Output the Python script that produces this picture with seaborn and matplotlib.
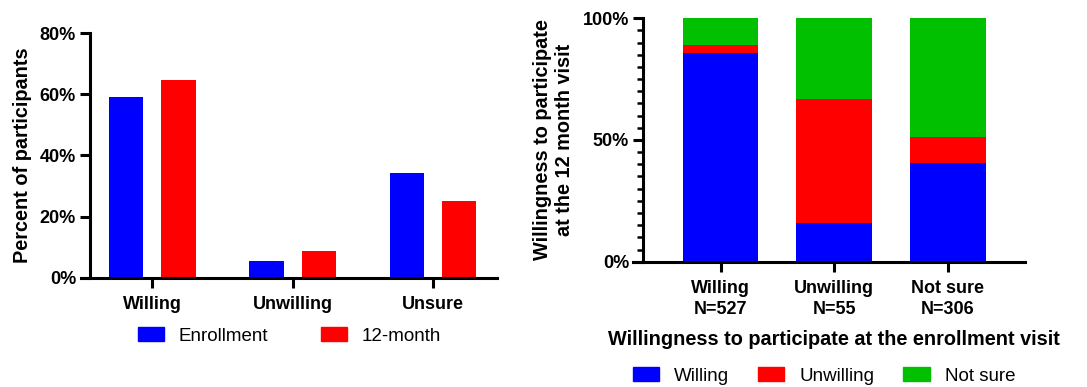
import matplotlib
matplotlib.use("Agg")
import matplotlib.pyplot as plt
from matplotlib.patches import Patch
from matplotlib.ticker import MultipleLocator, PercentFormatter
import pandas as pd
import seaborn as sns

# left panel: percent of participants per answer, at both visits
categories = ["Willing", "Unwilling", "Unsure"]
visits = ["Enrollment", "12-month"]
enrollment_pct = [59.0, 5.7, 34.2]
month12_pct = [64.7, 8.7, 25.0]

# right panel: answer at 12 months, split by the answer at enrollment
enroll_groups = ["Willing", "Unwilling", "Not sure"]
group_n = [527, 55, 306]
answers = ["Willing", "Unwilling", "Not sure"]
pct_willing = [85.6, 16.0, 40.4]
pct_unwilling = [3.5, 51.0, 10.8]
pct_notsure = [10.9, 33.0, 48.8]

BLUE, RED, GREEN = "#0000FF", "#FF0000", "#00C000"

sns.set_style("ticks")
plt.rcParams["font.family"] = ["Liberation Sans", "DejaVu Sans"]
plt.rcParams["font.weight"] = "bold"
plt.rcParams["axes.labelweight"] = "bold"
plt.rcParams["axes.linewidth"] = 2.2
for key in ("text.color", "axes.labelcolor", "xtick.color", "ytick.color", "axes.edgecolor"):
    plt.rcParams[key] = "black"

fig = plt.figure(figsize=(10.87, 3.87), dpi=100)
ax1 = fig.add_axes([0.0828, 0.2817, 0.3744, 0.633])
ax2 = fig.add_axes([0.5915, 0.3238, 0.3514, 0.629])

# ---- left: grouped bars
left_df = pd.DataFrame({
    "category": categories * 2,
    "visit": [visits[0]] * 3 + [visits[1]] * 3,
    "pct": enrollment_pct + month12_pct,
})
sns.barplot(data=left_df, x="category", y="pct", hue="visit", hue_order=visits,
            palette=[BLUE, RED], saturation=1, width=0.744, gap=0.34,
            errorbar=None, linewidth=0, legend=False, ax=ax1)
ax1.set_xlim(-0.444, 2.455)
ax1.set_ylim(0, 80)
ax1.yaxis.set_major_locator(MultipleLocator(20))
ax1.yaxis.set_major_formatter(PercentFormatter(decimals=0))
ax1.set_xlabel("")
ax1.set_ylabel("Percent of participants", fontsize=14.3, labelpad=6)

# ---- right: stacked bars, drawn as cumulative layers
tops = []
for w, u in zip(pct_willing, pct_unwilling):
    tops.append([w, w + u, 100.0])
group_labels = [f"{g}\nN={n}" for g, n in zip(enroll_groups, group_n)]
right_df = pd.DataFrame({
    "group": [g for g in group_labels for _ in answers],
    "answer": answers * len(group_labels),
    "top": [t for row in tops for t in row],
})
sns.barplot(data=right_df, x="group", y="top", hue="answer",
            hue_order=answers[::-1], palette=[GREEN, RED, BLUE], saturation=1,
            dodge=False, width=0.667, errorbar=None, linewidth=0, legend=False,
            ax=ax2)
ax2.set_xlim(-0.684, 2.68)
ax2.set_ylim(0, 100)
ax2.yaxis.set_major_locator(MultipleLocator(50))
ax2.yaxis.set_minor_locator(MultipleLocator(5))
ax2.yaxis.set_major_formatter(PercentFormatter(decimals=0))
ax2.set_xlabel("Willingness to participate at the enrollment visit", fontsize=14.3, labelpad=9)
ax2.set_ylabel("Willingness to participate\nat the 12 month visit", fontsize=14.3, labelpad=6)

for ax in (ax1, ax2):
    sns.despine(ax=ax)
    ax.tick_params(axis="both", which="major", length=7, width=2.2, labelsize=13, pad=3)
    ax.tick_params(axis="x", which="major", pad=6)
    ax.tick_params(axis="y", which="minor", length=4, width=1.8)
    for lab in ax.get_xticklabels() + ax.get_yticklabels():
        lab.set_fontweight("bold")
        lab.set_linespacing(1.3)
ax1.spines["bottom"].set_bounds(-0.508, 2.455)
ax2.spines["bottom"].set_bounds(-0.772, 2.68)

leg_font = dict(weight="normal", size=13.5)
fig.legend([Patch(color=BLUE), Patch(color=RED)], visits,
           loc="center", bbox_to_anchor=(0.2663, 0.1318), ncol=2, frameon=False,
           handlelength=1.4, handleheight=0.7, handletextpad=0.8,
           columnspacing=2.8, prop=leg_font, borderpad=0)
fig.legend([Patch(color=BLUE), Patch(color=RED), Patch(color=GREEN)], answers,
           loc="center", bbox_to_anchor=(0.758, 0.0284), ncol=3, frameon=False,
           handlelength=1.4, handleheight=0.7, handletextpad=0.8,
           columnspacing=1.55, prop=leg_font, borderpad=0)

fig.savefig("out.png", dpi=100)
